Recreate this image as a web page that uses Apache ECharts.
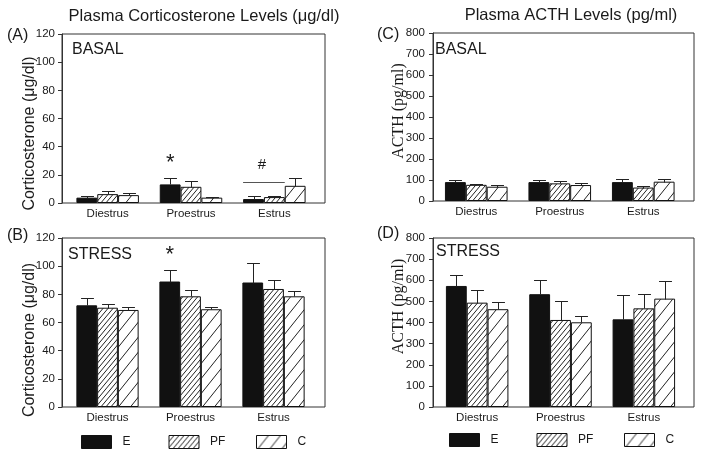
<!DOCTYPE html>
<html><head><meta charset="utf-8">
<script src="https://cdn.jsdelivr.net/npm/echarts@6/dist/echarts.min.js"></script>
<style>html,body{margin:0;padding:0;background:#fff}#c{width:704px;height:457px}</style>
</head><body><div id="c"></div>
<script>
// ---------- data ----------
const categories = ['Diestrus', 'Proestrus', 'Estrus'];
const groups = ['E', 'PF', 'C'];
const cortTicks = [0, 120, 20];   // min, max, interval
const acthTicks = [0, 800, 100];

// (A) basal corticosterone (µg/dl): means and upper SEM ends
const basalCortE = [3.8, 13.2, 2.8];
const basalCortEUp = [5.3, 18.0, 4.9];
const basalCortPF = [6.3, 11.5, 4.2];
const basalCortPFUp = [8.3, 15.5, 5.2];
const basalCortC = [5.6, 3.8, 12.2];
const basalCortCUp = [7.0, 4.5, 17.7];

// (B) stress corticosterone (µg/dl)
const stressCortE = [72.2, 89.1, 88.4];
const stressCortEUp = [77.2, 97.4, 102.1];
const stressCortPF = [70.5, 78.6, 83.8];
const stressCortPFUp = [72.9, 83.4, 90.5];
const stressCortC = [68.9, 69.4, 78.6];
const stressCortCUp = [71.0, 70.8, 82.7];

// (C) basal ACTH (pg/ml)
const basalActhE = [90, 90, 90];
const basalActhEUp = [100, 100, 106];
const basalActhPF = [77, 84, 64];
const basalActhPFUp = [82, 93, 72];
const basalActhC = [68, 76, 92];
const basalActhCUp = [76, 85, 105];

// (D) stress ACTH (pg/ml)
const stressActhE = [573, 534, 415];
const stressActhEUp = [626, 600, 529];
const stressActhPF = [494, 412, 467];
const stressActhPFUp = [553, 504, 534];
const stressActhC = [463, 401, 513];
const stressActhCUp = [497, 432, 596];

// significance marks: [category index, value, bar slot offset, text]
const basalCortMarks = [[1, 28.6, -1, '*'], [2, 27.2, -0.6, '#']];
const basalCortLine = [[2, 14.6, -1.5, 0.5]]; // category, value, from slot, to slot
const stressCortMarks = [[1, 108.1, -1, '*']];

// ---------- styling helpers ----------
const SANS = "'Liberation Sans', Arial, sans-serif";
const SERIF = "'Liberation Serif', 'Times New Roman', serif";
const INK = '#1a1a1a';

function hatch(w, h, bg) {
  const c = document.createElement('canvas');
  c.width = w; c.height = h;
  const ctx = c.getContext('2d');
  ctx.fillStyle = bg; ctx.fillRect(0, 0, w, h);
  ctx.strokeStyle = '#222'; ctx.lineWidth = 1;
  for (const dx of [-w, 0, w]) {
    ctx.beginPath();
    ctx.moveTo(dx - w, 2 * h);
    ctx.lineTo(dx + 2 * w, -h);
    ctx.stroke();
  }
  return c;
}
const fills = {
  E: '#111',
  PF: { image: hatch(5, 6, '#fff'), repeat: 'repeat' },
  C: { image: hatch(12, 15, '#fff'), repeat: 'repeat' }
};

const panels = [
  { frame: { left: 62, top: 34, width: 263, height: 169 }, barLeft: 66, barWidth: 250,
    ticks: cortTicks, name: 'Corticosterone (μg/dl)', nameFont: SANS, nameGap: 24, namePad: [0, 30, 0, 0], labelMargin: 7,
    data: [[basalCortE, basalCortEUp], [basalCortPF, basalCortPFUp], [basalCortC, basalCortCUp]],
    marks: basalCortMarks, lines: basalCortLine },
  { frame: { left: 62, top: 238, width: 263, height: 169 }, barLeft: 66, barWidth: 249,
    ticks: cortTicks, name: 'Corticosterone (μg/dl)', nameFont: SANS, nameGap: 24, namePad: [0, 35, 0, 0], labelMargin: 7,
    data: [[stressCortE, stressCortEUp], [stressCortPF, stressCortPFUp], [stressCortC, stressCortCUp]],
    marks: stressCortMarks, lines: [] },
  { frame: { left: 433, top: 33, width: 261, height: 168 }, barLeft: 434.5, barWidth: 250.5,
    ticks: acthTicks, name: 'ACTH (pg/ml)', nameFont: SERIF, nameGap: 26, namePad: [0, 0, 0, 12], labelMargin: 8,
    data: [[basalActhE, basalActhEUp], [basalActhPF, basalActhPFUp], [basalActhC, basalActhCUp]],
    marks: [], lines: [] },
  { frame: { left: 433, top: 238, width: 261, height: 169 }, barLeft: 435.5, barWidth: 250,
    ticks: acthTicks, name: 'ACTH (pg/ml)', nameFont: SERIF, nameGap: 26, namePad: [0, 0, 0, 32], labelMargin: 8,
    data: [[stressActhE, stressActhEUp], [stressActhPF, stressActhPFUp], [stressActhC, stressActhCUp]],
    marks: [], lines: [] }
];

const grid = [], xAxis = [], yAxis = [], series = [];

function errRender(params, api) {
  const cat = api.value(0);
  const pm = api.coord([cat, api.value(1)]);
  const pt = api.coord([cat, api.value(2)]);
  const bw = api.size([1, 0])[0] * 0.25;
  const x = Math.round(pm[0] + api.value(3) * bw) + 0.5;
  const cap = bw * 0.31;
  const y1 = Math.round(pm[1]) + 0.5, y2 = Math.round(pt[1]) + 0.5;
  return { type: 'group', children: [
    { type: 'line', shape: { x1: x, y1: y1, x2: x, y2: y2 }, style: { stroke: '#222', lineWidth: 1 } },
    { type: 'line', shape: { x1: x - cap, y1: y2, x2: x + cap, y2: y2 }, style: { stroke: '#222', lineWidth: 1 } }
  ] };
}
function makeMarkRender(texts) {
  return function (params, api) {
    const p = api.coord([api.value(0), api.value(1)]);
    const bw = api.size([1, 0])[0] * 0.25;
    const t = texts[params.dataIndex];
    return { type: 'text', x: p[0] + api.value(2) * bw, y: p[1],
      style: { text: t, align: 'center', verticalAlign: 'middle',
        font: (t === '*' ? '22px ' : '15px ') + SANS, fill: INK } };
  };
}
function lineRender(params, api) {
  const p = api.coord([api.value(0), api.value(1)]);
  const bw = api.size([1, 0])[0] * 0.25;
  const y = Math.round(p[1]) + 0.5;
  return { type: 'line', shape: { x1: p[0] + api.value(2) * bw, y1: y, x2: p[0] + api.value(3) * bw, y2: y },
    style: { stroke: '#555', lineWidth: 1 } };
}

panels.forEach((pn, k) => {
  const gF = 2 * k, gB = 2 * k + 1;
  const [mn, mx, iv] = pn.ticks;
  grid.push({ left: pn.frame.left, top: pn.frame.top, width: pn.frame.width, height: pn.frame.height,
    show: true, borderColor: '#333', borderWidth: 1, backgroundColor: 'transparent' });
  grid.push({ left: pn.barLeft, top: pn.frame.top, width: pn.barWidth, height: pn.frame.height });
  xAxis.push({ gridIndex: gF, type: 'value', min: 0, max: 1, show: false });
  xAxis.push({ gridIndex: gB, type: 'category', data: categories,
    axisLine: { show: false }, axisTick: { show: false },
    axisLabel: { margin: 5, fontSize: 11.5, fontFamily: SANS, color: INK } });
  yAxis.push({ gridIndex: gF, type: 'value', min: mn, max: mx, interval: iv,
    splitLine: { show: false },
    axisLine: { show: true, lineStyle: { color: '#333' } },
    axisTick: { show: true, length: 4, lineStyle: { color: '#333' } },
    axisLabel: { margin: pn.labelMargin, fontSize: 11.5, fontFamily: SANS, color: INK },
    name: pn.name, nameLocation: 'middle', nameGap: pn.nameGap, nameMoveOverlap: false,
    nameTextStyle: { fontSize: 16, fontFamily: pn.nameFont, color: INK, padding: pn.namePad } });
  yAxis.push({ gridIndex: gB, type: 'value', min: mn, max: mx, show: false });

  pn.data.forEach((d, s) => {
    series.push({ type: 'bar', name: groups[s], xAxisIndex: gB, yAxisIndex: gB,
      data: d[0], barCategoryGap: '25%', barGap: '0%',
      itemStyle: { color: fills[groups[s]], borderColor: '#111', borderWidth: 1 },
      emphasis: { disabled: true }, silent: true, z: 2 });
  });
  const errData = [];
  pn.data.forEach((d, s) => d[0].forEach((v, i) => errData.push([i, v, d[1][i], s - 1])));
  series.push({ type: 'custom', name: 'sem' + k, xAxisIndex: gB, yAxisIndex: gB,
    data: errData, renderItem: errRender, silent: true, z: 5 });
  if (pn.marks.length) {
    series.push({ type: 'custom', name: 'sig' + k, xAxisIndex: gB, yAxisIndex: gB,
      data: pn.marks.map(m => [m[0], m[1], m[2]]),
      renderItem: makeMarkRender(pn.marks.map(m => m[3])), silent: true, z: 6 });
  }
  if (pn.lines.length) {
    series.push({ type: 'custom', name: 'line' + k, xAxisIndex: gB, yAxisIndex: gB,
      data: pn.lines, renderItem: lineRender, silent: true, z: 6 });
  }
});

function legendItem(name, left, top) {
  return { left: left, top: top, orient: 'horizontal', data: [name], icon: 'rect',
    itemWidth: 30, itemHeight: 13, itemGap: 0, selectedMode: false, padding: 0,
    itemStyle: { borderColor: '#111', borderWidth: 1 },
    textStyle: { fontSize: 12, fontFamily: SANS, color: INK, padding: [0, 0, 0, 6] } };
}
const legends = [];
[81, 449].forEach((x0, j) => {
  const top = j === 0 ? 435 : 433;
  groups.forEach((g, i) => legends.push(legendItem(g, x0 + i * 87.5, top)));
});

function txt(x, y, text, size, align, family) {
  return { type: 'text', x: x, y: y, silent: true,
    style: { text: text, font: size + 'px ' + (family || SANS), fill: INK, align: align || 'left', verticalAlign: 'middle' } };
}

const option = {
  animation: false,
  backgroundColor: '#fff',
  grid: grid, xAxis: xAxis, yAxis: yAxis, series: series,
  legend: legends,
  graphic: [
    txt(204, 16.5, 'Plasma Corticosterone Levels (μg/dl)', 16.5, 'center'),
    txt(571, 15.5, 'Plasma ACTH Levels (pg/ml)', 16.5, 'center'),
    txt(7, 35.5, '(A)', 16), txt(7, 235.5, '(B)', 16),
    txt(377, 35, '(C)', 16), txt(377, 234, '(D)', 16),
    txt(72, 50, 'BASAL', 16), txt(68, 255, 'STRESS', 16),
    txt(435, 49.5, 'BASAL', 16), txt(436, 252, 'STRESS', 16)
  ]
};
const chart = echarts.init(document.getElementById('c'), null, { renderer: 'canvas' });
chart.setOption(option);
</script>
</body></html>
